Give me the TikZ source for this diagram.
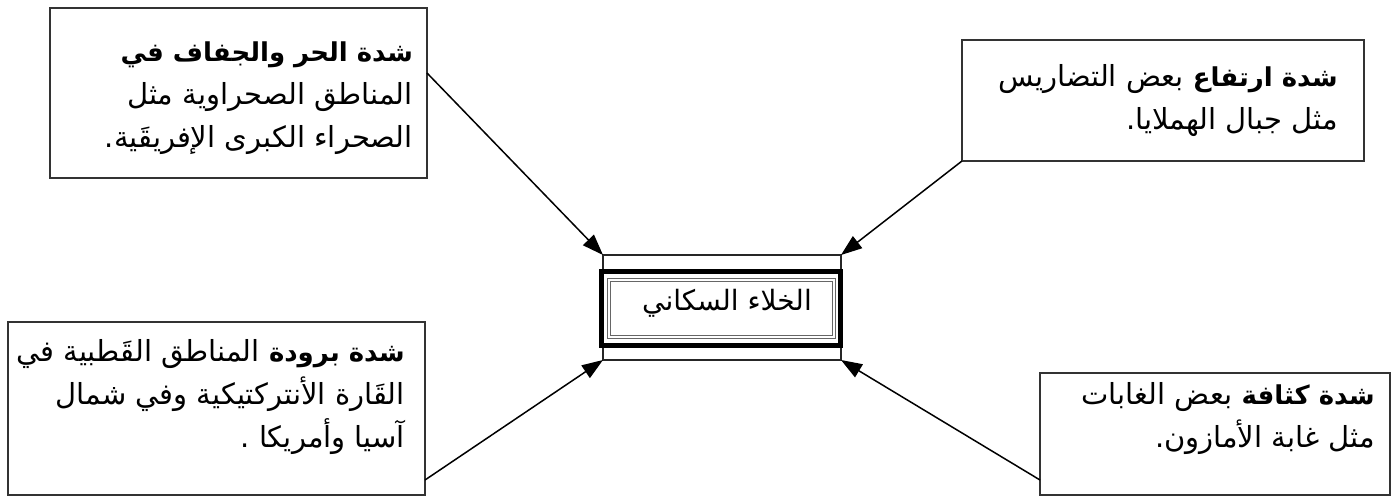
\documentclass[tikz,border=0pt]{standalone}
\usepackage{fontspec}
\usetikzlibrary{arrows.meta}
\newfontfamily\arabicfont[Script=Arabic]{DejaVu Sans}
\TeXXeTstate=1
\newcommand{\bd}[1]{{\fontsize{26}{43}\selectfont\bfseries #1}}
\begin{document}
\begin{tikzpicture}[x=1pt,y=-1pt,
  box/.style={draw=black!80, line width=1.6pt, inner sep=0pt, outer sep=0pt},
  txt/.style={font=\arabicfont\fontsize{29}{43}\selectfont, align=right, inner sep=0pt},
  conn/.style={line width=1.5pt, -{Triangle[length=21pt,width=15pt]}}]
\useasboundingbox (0,0) rectangle (1400,502);
\fill[white] (0,0) rectangle (1400,502);
% outer boxes
\node[box, anchor=north west, minimum width=377pt, minimum height=170pt] (tl) at (50,8) {};
\node[box, anchor=north west, minimum width=402pt, minimum height=121pt] (tr) at (962,40) {};
\node[box, anchor=north west, minimum width=417pt, minimum height=173pt] (bl) at (8,322) {};
\node[box, anchor=north west, minimum width=350pt, minimum height=122pt] (br) at (1040,373) {};
% texts
\node[txt, anchor=east] (tlt) at ([xshift=-14pt,yshift=-5pt]tl.east)
  {\beginR\bd{شدة الحر والجفاف في}\endR\\ \beginR المناطق الصحراوية مثل\endR\\ \beginR الصحراء الكبرى الإفريقَية.\endR};
\node[txt, anchor=east] (trt) at ([xshift=-26pt]tr.east)
  {\beginR\bd{شدة ارتفاع} بعض التضاريس\endR\\ \beginR مثل جبال الهملايا.\endR};
\node[txt, anchor=east] (blt) at ([xshift=-20pt,yshift=11pt]bl.east)
  {\beginR\bd{شدة برودة} المناطق القَطبية في\endR\\ \beginR القَارة الأنتركتيكية وفي شمال\endR\\ \beginR آسيا وأمريكا .\endR};
\node[txt, anchor=east] (brt) at ([xshift=-15pt,yshift=15pt]br.east)
  {\beginR\bd{شدة كثافة} بعض الغابات\endR\\ \beginR مثل غابة الأمازون.\endR};
% centre
\node[draw=black!85, line width=1.2pt, inner sep=0pt, outer sep=0pt,
      minimum width=238pt, minimum height=105pt] (c) at (722,307.5) {};
\draw[line width=5pt] (601.5,271.5) rectangle (840.5,346);
\draw[black!60, line width=0.9pt] (607,278) rectangle (835,338.5);
\draw[black!60, line width=0.9pt] (610,281.5) rectangle (832,335);
\node[txt, font=\arabicfont\fontsize{28}{43}\selectfont] (ct) at (727,303) {\beginR الخلاء السكاني\endR};
% connectors
\draw[conn] ([yshift=-65pt]tl.north east) -- (c.north west);
\draw[conn] (tr.south west) -- (c.north east);
\draw[conn] ([yshift=15pt]bl.south east) -- (c.south west);
\draw[conn] ([yshift=15pt]br.south west) -- (c.south east);
\end{tikzpicture}
\end{document}
